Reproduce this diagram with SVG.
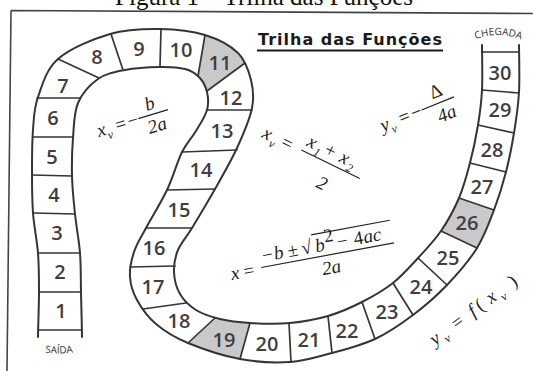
<svg xmlns="http://www.w3.org/2000/svg" width="533" height="371" viewBox="0 0 533 371">
<style>
.edge{fill:none;stroke:#353535;stroke-width:2;stroke-linecap:round;stroke-linejoin:round}
.div{fill:none;stroke:#353535;stroke-width:1.7;stroke-linecap:round}
.gray{fill:#c9c9c9;stroke:none}
.num{font-family:"Open Sans","Noto Sans",sans-serif;font-weight:600;font-size:20px;fill:#3f3f3f;text-anchor:middle}
.m{font-family:"Liberation Serif","DejaVu Serif",serif;font-style:italic;font-size:19px;fill:#222}
.mu{font-family:"Liberation Serif","DejaVu Serif",serif;font-size:19px;fill:#222}
.ms{font-family:"Liberation Serif","DejaVu Serif",serif;font-style:italic;font-size:12px;fill:#222}
.bar{stroke:#222;stroke-width:1.2}
.small{font-family:"Open Sans","Noto Sans",sans-serif;font-size:10px;fill:#333}
</style>
<rect width="533" height="371" fill="#ffffff"/>
<text x="264" y="5" text-anchor="middle" font-family="Liberation Serif, serif" font-size="25" fill="#111">Figura 1 – Trilha das Funções</text>
<path d="M11,10.5 L533,13.5 M11,10.5 L7,371" fill="none" stroke="#444" stroke-width="1.6"/>

<g id="title">
<text x="258" y="44.5" font-family="DejaVu Sans, sans-serif" font-weight="bold" font-size="16" fill="#1a1a1a" textLength="184" lengthAdjust="spacing">Trilha das Funções</text>
<line x1="257" y1="50.5" x2="443" y2="50.5" stroke="#1a1a1a" stroke-width="2"/>
</g>

<g id="cells-fill">
<path class="gray" d="M205,35 C218,38 232,45 245,63 L207,91 C205,85 202,80 198,76 Z"/>
<path class="gray" d="M215,318 C228,321 240,322 250,323 L240,359 C222,355 204,350 188,343 Z"/>
<path class="gray" d="M441,231 C448,221 455,210 459,198 L494,210 C490,223 484,236 477,248 Z"/>
</g>

<g id="track">
<path class="edge" d="M38,337 C38,330 39,306 39,292 S39,266 38,253 S34,226.5 33,213 S32,185.8 32,172 S32,142.5 33,130 S33.8,108.8 38,97 S46,69.5 58,59 S93,39 110,34 S144.2,28.8 160,29 S192,31 205,35 S230.3,45.5 238,53 S248.7,70.8 251,80 S254.3,96.7 252,108 S243.2,134.5 237,148 S222.5,175.7 215,189 S198.2,217.8 192,228 S181,242.7 178,250 S173.7,264.7 174,272 S176.3,287.7 180,294 S189.3,305.8 196,310 S211,316.8 220,319 S238.3,322.3 250,323 S277,324.2 290,323 S316,319.5 328,316 S351.2,307.5 362,302 S383.7,290.3 393,283 S410,266.7 418,258 S434.2,241 441,231 S454.2,209.3 459,198 S466.8,175.2 470,163 S476,137.2 478,125 S481.3,103.3 482,90 S482,52.5 482,45"/>
<path class="edge" d="M82,337 C82,330 81.3,306 81,292 S81,266 80,253 S76.3,226.8 75,214 S72.3,188.7 72,176 S72,150.2 73,138 S73.8,112.8 78,103 S90.2,84.5 98,79 S114.7,72 125,70 S150,67.2 160,67 S178.5,67.3 185,69 S195.3,73.2 199,77 S205.7,86.5 207,92 S208.8,103.5 207,110 S200.2,124 196,131 S186.8,142.2 182,152 S173,177.3 167,190 S151.5,217.7 146,228 S136.7,243.8 134,252 S129.5,269 130,277 S132.7,292.2 137,300 S147.5,316.8 156,324 S174,337.2 188,343 S223,355.8 240,359 S274.7,363 290,362 S317.8,356.8 332,353 S361.5,345.3 375,339 S401,324 413,315 S436.3,296.2 447,285 S469.2,260.5 477,248 S489.2,222.7 494,210 S502.7,184.8 506,172 S511.8,146.3 514,133 S518.2,106.7 519,92 S519,52.8 519,45"/>
<path class="div" d="M39,330 L81,330 M39,292 L81,292 M38,253 L80,253 M33,213 L75,214 M32,175 L72,176 M33,137 L73,137 M37,98 L80,98 M58,59 L99,78 M111,34 L123,70 M161,29 L160,67 M205,35 L198,76 M245,63 L207,91 M252,110 L207,110 M237,150 L182,152 M215,189 L167,190 M192,228 L146,228 M175,266 L130,267 M186,303 L143,309 M215,318 L188,343 M250,323 L240,359 M289,323 L291,362 M328,316 L332,353 M362,302 L375,339 M393,283 L413,315 M418,258 L447,285 M441,231 L477,248 M459,198 L494,210 M470,163 L506,172 M478,125 L514,133 M482,90 L519,93 M482,52 L519,52"/>
</g>

<g id="numbers">
<text class="num" x="61" y="318">1</text>
<text class="num" x="60" y="279">2</text>
<text class="num" x="57" y="240">3</text>
<text class="num" x="54" y="202">4</text>
<text class="num" x="52" y="164">5</text>
<text class="num" x="53" y="125">6</text>
<text class="num" x="63" y="93">7</text>
<text class="num" x="97" y="64">8</text>
<text class="num" x="139" y="56">9</text>
<text class="num" x="181" y="57">10</text>
<text class="num" x="220" y="70">11</text>
<text class="num" x="231" y="105">12</text>
<text class="num" x="222" y="138">13</text>
<text class="num" x="201" y="177">14</text>
<text class="num" x="179" y="217">15</text>
<text class="num" x="154" y="255">16</text>
<text class="num" x="153" y="294">17</text>
<text class="num" x="179" y="328">18</text>
<text class="num" x="224" y="347">19</text>
<text class="num" x="267" y="351">20</text>
<text class="num" x="309" y="347">21</text>
<text class="num" x="347" y="338">22</text>
<text class="num" x="387" y="319">23</text>
<text class="num" x="421" y="294">24</text>
<text class="num" x="448" y="265">25</text>
<text class="num" x="467" y="230">26</text>
<text class="num" x="482" y="194">27</text>
<text class="num" x="492" y="157">28</text>
<text class="num" x="500" y="117">29</text>
<text class="num" x="500" y="80">30</text>
</g>

<g id="labels">
<path id="arcC" d="M470,42 Q497,28 527,42" fill="none"/>
<text class="small"><textPath href="#arcC" startOffset="50%" text-anchor="middle">CHEGADA</textPath></text>
<path id="arcS" d="M37,351 Q59,356 81,351" fill="none"/>
<text class="small"><textPath href="#arcS" startOffset="50%" text-anchor="middle">SAÍDA</textPath></text>
</g>

<g id="formula-xv1" transform="translate(99,137) rotate(-17)">
<text class="m" x="0" y="0">x</text><text class="ms" x="9" y="5">v</text>
<text class="mu" x="19" y="0">=</text><text class="mu" x="32" y="0">−</text>
<line class="bar" x1="43" y1="-6" x2="74" y2="-6"/>
<text class="m" x="58" y="-11" text-anchor="middle">b</text>
<text class="m" x="59" y="12" text-anchor="middle">2a</text>
</g>

<g id="formula-xv2" transform="translate(261,137) rotate(26)">
<text class="m" x="0" y="0" font-size="21">x</text><text class="ms" x="10" y="5" font-size="13">v</text>
<text class="mu" x="21" y="0" font-size="21">=</text>
<line class="bar" x1="42" y1="-6" x2="107" y2="-6"/>
<text class="m" x="44" y="-12" font-size="21">x</text><text class="ms" x="54" y="-7" font-size="13">1</text>
<text class="mu" x="63" y="-12" font-size="21">+</text>
<text class="m" x="80" y="-12" font-size="21">x</text><text class="ms" x="90" y="-7" font-size="13">2</text>
<text class="m" x="75" y="21" font-size="21" text-anchor="middle">2</text>
</g>

<g id="formula-yv" transform="translate(383,132) rotate(-22)">
<text class="m" x="0" y="0">y</text><text class="ms" x="9" y="5">v</text>
<text class="mu" x="20" y="0">=</text><text class="mu" x="33" y="0">−</text>
<line class="bar" x1="44" y1="-6" x2="79" y2="-6"/>
<text class="mu" x="64" y="-12" text-anchor="middle">Δ</text>
<text class="m" x="66" y="13" text-anchor="middle">4a</text>
</g>

<g id="formula-bhaskara" transform="translate(232,280) rotate(-10.5)">
<text class="m" x="0" y="0">x</text>
<text class="mu" x="13" y="0">=</text>
<line class="bar" x1="31" y1="-7" x2="166" y2="-7"/>
<text class="mu" x="34" y="-12">−</text>
<text class="m" x="46" y="-12">b</text>
<text class="mu" x="60" y="-12">±</text>
<text class="mu" x="74" y="-12" font-size="21">√</text>
<line class="bar" x1="86" y1="-30" x2="166" y2="-30"/>
<text class="m" x="88" y="-12">b</text>
<text class="mu" x="98" y="-20" font-size="12">2</text>
<text class="mu" x="110" y="-12">−</text>
<text class="mu" x="127" y="-12">4</text>
<text class="m" x="137" y="-12">ac</text>
<text class="m" x="100" y="12" text-anchor="middle">2a</text>
</g>

<g id="formula-yvf" transform="translate(435,346) rotate(-36.5)">
<text class="m" x="0" y="0" font-size="24">y</text><text class="ms" x="12" y="5" font-size="15">v</text>
<text class="mu" x="27" y="0" font-size="24">=</text>
<text class="m" x="48" y="0" font-size="24">f</text><text class="mu" x="57" y="0" font-size="24">(</text>
<text class="m" x="70" y="0" font-size="24">x</text><text class="ms" x="82" y="5" font-size="15">v</text>
<text class="mu" x="98" y="0" font-size="24">)</text>
</g>
</svg>
